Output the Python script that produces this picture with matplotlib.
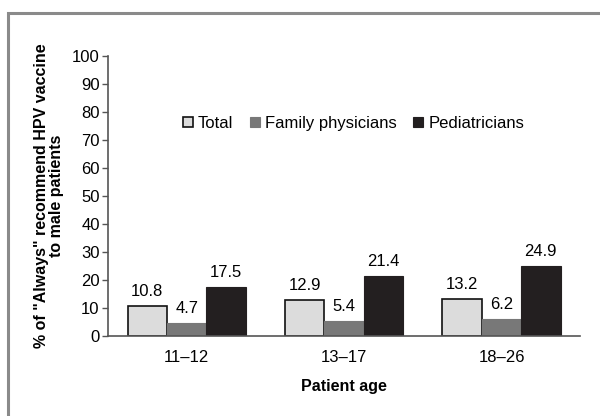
import numpy as np
import matplotlib.pyplot as plt
from matplotlib.patches import Rectangle

plt.rcParams['font.family'] = ['Liberation Sans', 'DejaVu Sans']

ages = ['11–12', '13–17', '18–26']
total = [10.8, 12.9, 13.2]
family = [4.7, 5.4, 6.2]
pediatric = [17.5, 21.4, 24.9]
series_names = ['Total', 'Family physicians', 'Pediatricians']

fig = plt.figure(figsize=(6, 4.16), dpi=100)
fig.patches.append(Rectangle((8 / 600, -0.1), 1.2, 1.1 - 13 / 416, transform=fig.transFigure,
                             fill=False, edgecolor='#8a8a8a', linewidth=2.2))

ax = fig.add_axes([0.18, 0.1923, 0.787, 0.673])
x = np.arange(len(ages))
w = 0.25
styles = [dict(color='#dcdcdc', edgecolor='#111111', linewidth=1.2),
          dict(color='#787878', edgecolor='#787878', linewidth=0.8),
          dict(color='#231f20', edgecolor='#231f20', linewidth=0.8)]
for i, (vals, name, st) in enumerate(zip([total, family, pediatric], series_names, styles)):
    bars = ax.bar(x + (i - 1) * w, vals, w, label=name, **st)
    for b, v in zip(bars, vals):
        ax.text(b.get_x() + b.get_width() / 2, v + 2.5, f'{v}', ha='center', va='bottom', fontsize=12)

ax.set_xlim(-0.5, 2.5)
ax.set_ylim(0, 100)
ax.set_yticks(range(0, 101, 10))
ax.set_xticks(x)
ax.set_xticklabels(ages)
ax.tick_params(axis='y', length=4, width=1, color='#555555', labelsize=12, pad=2)
ax.tick_params(axis='x', length=0, labelsize=12, pad=10)
for s in ['top', 'right']:
    ax.spines[s].set_visible(False)
for s in ['left', 'bottom']:
    ax.spines[s].set_color('#555555')
    ax.spines[s].set_linewidth(1.2)

ax.set_xlabel('Patient age', fontsize=11.5, fontweight='bold', labelpad=10)
ax.set_ylabel('% of "Always" recommend HPV vaccine\nto male patients', fontsize=11.5,
              fontweight='bold', labelpad=6, linespacing=1.0)

ax.legend(loc='center', bbox_to_anchor=(0.52, 0.76), ncol=3, frameon=False, fontsize=12,
          handlelength=0.6, handleheight=0.6, handletextpad=0.3, columnspacing=1.0)

fig.savefig('out.png', dpi=100)
